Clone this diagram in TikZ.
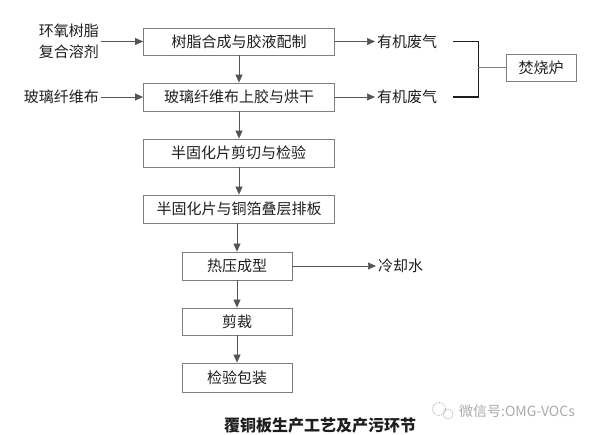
\documentclass[tikz,border=0pt]{standalone}
\usepackage{fontspec}
\setmainfont{Noto Sans CJK SC}
\usetikzlibrary{arrows.meta,positioning}
\definecolor{linegray}{RGB}{85,85,85}
\definecolor{boxgray}{RGB}{125,125,125}
\definecolor{markgray}{RGB}{170,170,170}
\definecolor{textblack}{RGB}{30,30,30}

\begin{document}
\begin{tikzpicture}[x=1pt,y=-1pt,
    procbox/.style={draw=boxgray, line width=0.8pt, minimum height=27pt, inner sep=0pt,
                    text=textblack, font=\fontsize{15}{17}\selectfont},
    flow/.style={draw=linegray, line width=0.7pt, -{Triangle[length=8pt,width=7pt]}},
    lbl/.style={text=textblack, font=\fontsize{15}{21}\selectfont, inner sep=2pt, align=center}]
    \useasboundingbox (0,0) rectangle (608,434);

    % Main process boxes
    \node[procbox, minimum width=191pt] (mix) at (239,41.5) {树脂合成与胶液配制};
    \node[procbox, minimum width=191pt, minimum height=28pt] (coat) at (239,97) {玻璃纤维布上胶与烘干};
    \node[procbox, minimum width=191pt, minimum height=28pt] (cut) at (238.5,153) {半固化片剪切与检验};
    \node[procbox, minimum width=191pt, minimum height=28pt] (stack) at (239,209) {半固化片与铜箔叠层排板};
    \node[procbox, minimum width=110pt, minimum height=28pt] (press) at (237,266) {热压成型};
    \node[procbox, minimum width=110pt] (trim) at (237,321.5) {剪裁};
    \node[procbox, minimum width=110pt, minimum height=29pt] (pack) at (237,377.5) {检验包装};

    % Raw materials
    \node[lbl, anchor=east] (resin) at (101,41.5) {环氧树脂\\复合溶剂};
    \node[lbl, anchor=east] (glass) at (101,97) {玻璃纤维布};

    % Emissions
    \node[lbl, anchor=west] (gas1) at (375,41.5) {有机废气};
    \node[lbl, anchor=west] (gas2) at (375,97) {有机废气};
    \node[lbl, anchor=west] (water) at (376,266) {冷却水};
    \node[procbox, minimum width=70pt] (burner) at (541,67.5) {焚烧炉};

    % Flow arrows
    \draw[flow] (resin) -- (mix);
    \draw[flow] (glass) -- (coat);
    \draw[flow] (mix.south) -- (mix.south |- coat.north);
    \draw[flow] (coat.south) -- (coat.south |- cut.north);
    \draw[flow] (cut.south -| coat.south) -- (coat.south |- stack.north);
    \draw[flow] (press.north |- stack.south) -- (press.north);
    \draw[flow] (press) -- (trim);
    \draw[flow] (trim) -- (pack);
    \draw[flow] (mix) -- (gas1);
    \draw[flow] (coat) -- (gas2);
    \draw[flow] (press) -- (water);

    % Bracket to the incinerator
    \draw[textblack, line width=1.6pt] ([xshift=14pt]gas1.east) -- ++(25,0) coordinate (bkt)
        |- ([xshift=14pt]gas2.east);
    \draw[boxgray, line width=0.7pt] (bkt |- burner.west) -- (burner.west);

    % Caption and watermark
    \node[text=textblack, font=\bfseries\fontsize{16}{18}\selectfont, inner sep=0pt] (title) at (320,425) {覆铜板生产工艺及产污环节};
    \draw[markgray, densely dotted, line width=0.8pt] (439,409) circle (6.5) (448,414) circle (5);
    \node[text=markgray, font=\fontsize{14}{16}\selectfont, anchor=west, inner sep=0pt] (mark) at (459,411) {微信号:OMG-VOCs};
\end{tikzpicture}
\end{document}
